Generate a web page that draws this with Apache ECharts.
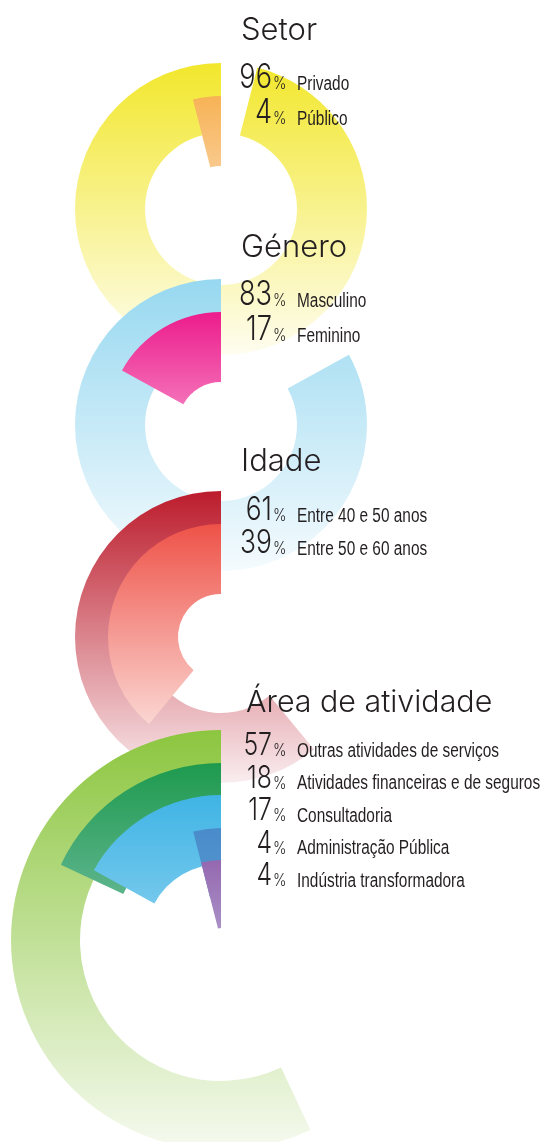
<!DOCTYPE html>
<html>
<head>
<meta charset="utf-8">
<script src="https://cdn.jsdelivr.net/npm/echarts@6/dist/echarts.min.js"></script>
<style>
  html, body { margin: 0; padding: 0; background: #fff; }
  #chart { width: 543px; height: 1142px; }
</style>
</head>
<body>
<div id="chart"></div>
<script>
// dados
var setorLabels = ['Privado', 'Público']
var setorValues = [96, 4]
var generoLabels = ['Masculino', 'Feminino']
var generoValues = [83, 17]
var idadeLabels = ['Entre 40 e 50 anos', 'Entre 50 e 60 anos']
var idadeValues = [61, 39]
var areaLabels = ['Outras atividades de serviços', 'Atividades financeiras e de seguros', 'Consultadoria', 'Administração Pública', 'Indústria transformadora']
var areaValues = [57, 18, 17, 4, 4]

var titleFont = 'Inter, Roboto, "Liberation Sans", sans-serif'
var labelFont = '"Liberation Sans", Arial, sans-serif'

// layout de cada bloco
var groups = [
  {
    title: 'Setor', labels: setorLabels, values: setorValues,
    center: [221, 209], radii: [[76, 146], [43, 113]],
    colors: [['#F2E72C', '#FEFDF0'], ['#F7B255', '#F9C98C']],
    titleX: 241, titleY: 42, rowY: 90, step: 35, titleSize: 31, numSize: 34
  },
  {
    title: 'Género', labels: generoLabels, values: generoValues,
    center: [221, 425], radii: [[76, 146], [43, 113]],
    colors: [['#97D8F0', '#F5FBFE'], ['#EC1C8C', '#F470B8']],
    titleX: 241, titleY: 259, rowY: 307, step: 35, titleSize: 31, numSize: 34
  },
  {
    title: 'Idade', labels: idadeLabels, values: idadeValues,
    center: [221, 637], radii: [[76, 146], [43, 113]],
    colors: [['#BC1C2C', '#F9EDEF'], ['#EE5248', '#FBD6D2']],
    titleX: 241, titleY: 473, rowY: 522, step: 33, titleSize: 31, numSize: 33
  },
  {
    title: 'Área de atividade', labels: areaLabels, values: areaValues,
    center: [221, 940], radii: [[141, 210], [108, 177], [76, 145], [44, 112], [12, 80]],
    colors: [['#8CC63F', '#F6FAF0'], ['#1E9A4E', '#5DB48C'], ['#3FB4E5', '#74C8EC'], ['#4A8CCB', '#5296CE'], ['#9568B0', '#A990C6']],
    titleX: 246, titleY: 713, rowY: 757, step: 32.5, titleSize: 30.4, numSize: 31
  }
]

function grad(c) {
  return new echarts.graphic.LinearGradient(0, 0, 0, 1, [
    { offset: 0, color: c[0] },
    { offset: 1, color: c[1] }
  ])
}

var series = []
var graphics = []
groups.forEach(function (g) {
  g.values.forEach(function (v, i) {
    series.push({
      type: 'pie',
      center: g.center,
      radius: g.radii[i],
      startAngle: 90,
      clockwise: false,
      silent: true,
      animation: false,
      label: { show: false },
      labelLine: { show: false },
      itemStyle: { borderWidth: 0 },
      data: [
        { value: v, name: g.labels[i], itemStyle: { color: grad(g.colors[i]) } },
        { value: 100 - v, name: '', itemStyle: { color: 'rgba(0,0,0,0)' } }
      ]
    })
  })
})

function txt(x, y, text, font, align, sx) {
  return {
    type: 'text', x: x, y: y, scaleX: sx || 1, z: 100, silent: true,
    style: {
      text: text, font: font, fill: '#231F20',
      align: align, textAlign: align,
      verticalAlign: 'bottom', textVerticalAlign: 'bottom'
    }
  }
}

groups.forEach(function (g) {
  graphics.push(txt(g.titleX, g.titleY + 0.15 * g.titleSize, g.title, '300 ' + g.titleSize + 'px ' + titleFont, 'left'))
  g.values.forEach(function (v, i) {
    var b = g.rowY + i * g.step
    graphics.push(txt(272, b + 0.15 * g.numSize, String(v), '300 ' + g.numSize + 'px ' + titleFont, 'right', 0.8))
    graphics.push(txt(273, b + 0.15 * 17, '%', '300 17px ' + titleFont, 'left', 0.85))
    graphics.push(txt(297, b + 1 + 0.15 * 20, g.labels[i], '20px ' + labelFont, 'left', 0.77))
  })
})

var chart = echarts.init(document.getElementById('chart'))
chart.setOption({
  animation: false,
  series: series,
  graphic: graphics
})
</script>
</body>
</html>
